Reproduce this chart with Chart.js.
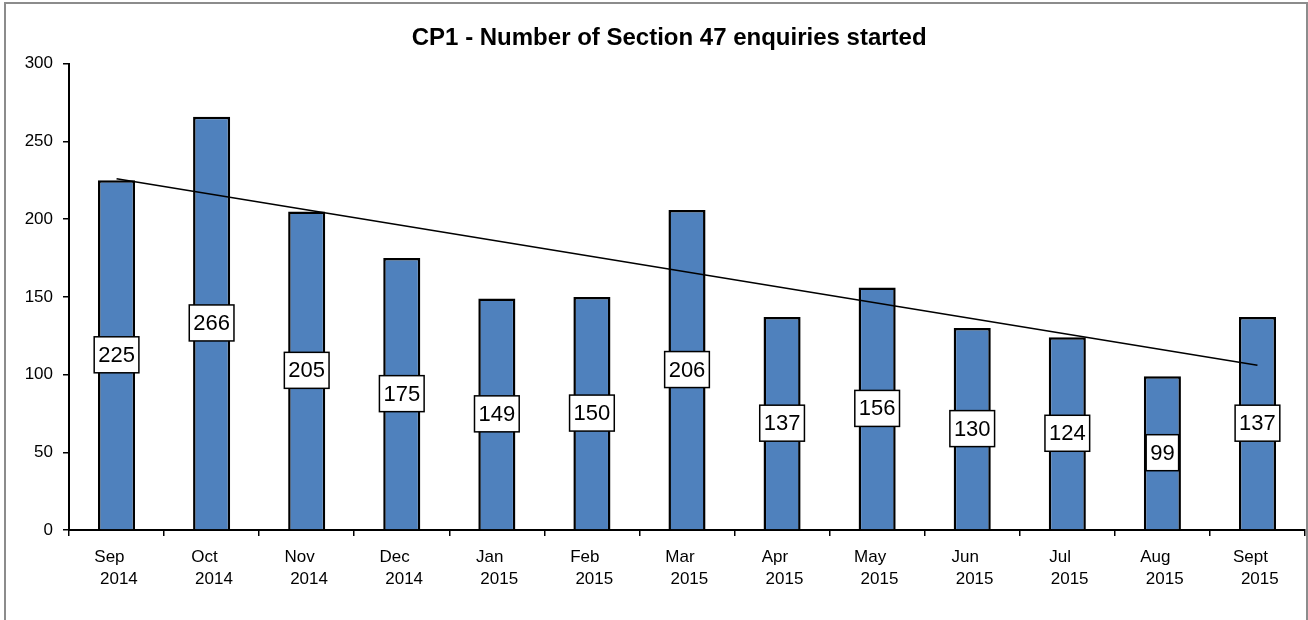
<!DOCTYPE html>
<html>
<head>
<meta charset="utf-8">
<script src="https://cdn.jsdelivr.net/npm/chart.js@4/dist/chart.umd.min.js"></script>
<style>
    html, body { margin: 0; padding: 0; background: #fff; overflow: hidden; }
    #frame {
        position: absolute; left: 4px; top: 2px; width: 1300px; height: 700px;
        border: 2px solid #8c8c8c;
    }
    #chart { position: absolute; left: 0; top: 0; }
</style>
</head>
<body>
<div id="frame"></div>
<canvas id="chart" width="1308" height="620"></canvas>
<script>
// Data
const months = ['Sep', 'Oct', 'Nov', 'Dec', 'Jan', 'Feb', 'Mar', 'Apr', 'May', 'Jun', 'Jul', 'Aug', 'Sept'];
const years = ['2014', '2014', '2014', '2014', '2015', '2015', '2015', '2015', '2015', '2015', '2015', '2015', '2015'];
const enquiries = [225, 266, 205, 175, 149, 150, 206, 137, 156, 130, 124, 99, 137];
// trend line end points
const trend = [226, null, null, null, null, null, null, null, null, null, null, null, 106];
const yTicks = [0, 50, 100, 150, 200, 250, 300];

const labels = months.map((m, i) => m + ' ' + years[i]);
const fontFamily = '"Liberation Sans", Arial, sans-serif';

// Boxed value labels in the middle of each bar
const boxLabels = {
    id: 'boxLabels',
    afterDatasetsDraw(chart) {
        const meta = chart.getDatasetMeta(1); // the bar dataset
        const ctx = chart.ctx;
        ctx.save();
        ctx.font = '22px ' + fontFamily;
        ctx.textAlign = 'center';
        ctx.textBaseline = 'middle';
        meta.data.forEach((bar, i) => {
            const txt = String(enquiries[i]);
            const w = ctx.measureText(txt).width + 8;
            const h = 36;
            const cy = (bar.y + bar.base) / 2;
            ctx.fillStyle = '#fff';
            ctx.fillRect(bar.x - w / 2, cy - h / 2, w, h);
            ctx.strokeStyle = '#000';
            ctx.lineWidth = 1.5;
            ctx.strokeRect(bar.x - w / 2, cy - h / 2, w, h);
            ctx.fillStyle = '#000';
            ctx.fillText(txt, bar.x, cy + 1);
        });
        ctx.restore();
    }
};

new Chart(document.getElementById('chart'), {
    type: 'bar',
    data: {
        labels: labels,
        datasets: [
            {
                type: 'line',
                data: trend,
                borderColor: '#000',
                borderWidth: 1.5,
                pointRadius: 0,
                spanGaps: true,
                order: 0
            },
            {
                data: enquiries,
                backgroundColor: '#4f81bd',
                borderColor: '#000',
                borderWidth: 2.5,
                barPercentage: 0.39,
                categoryPercentage: 1,
                order: 1
            }
        ]
    },
    options: {
        responsive: false,
        animation: false,
        layout: { padding: { left: 0, right: 3, top: 0, bottom: 0 } },
        plugins: {
            legend: { display: false },
            tooltip: { enabled: false },
            title: {
                display: true,
                // leading spaces nudge the title right like in the original
                text: '     CP1 - Number of Section 47 enquiries started',
                color: '#000',
                font: { family: fontFamily, size: 24, weight: 'bold', lineHeight: 1.2 },
                padding: { top: 24, bottom: 11 }
            }
        },
        scales: {
            x: {
                grid: {
                    offset: true,
                    drawOnChartArea: false,
                    drawTicks: true,
                    tickLength: 6,
                    color: '#000',
                    lineWidth: 1.5
                },
                border: { display: true, color: '#000', width: 2 },
                ticks: {
                    color: '#000',
                    maxRotation: 0,
                    autoSkip: false,
                    padding: 10,
                    font: { family: fontFamily, size: 17, lineHeight: 1.3 },
                    callback: (v, i) => [months[i] + '   ', ' ' + years[i]]
                },
                afterFit: (scale) => { scale.height = 90; }
            },
            y: {
                min: 0,
                max: 300,
                afterBuildTicks: (scale) => { scale.ticks = yTicks.map(v => ({ value: v })); },
                grid: {
                    drawOnChartArea: false,
                    drawTicks: true,
                    tickLength: 6,
                    color: '#000',
                    lineWidth: 1.5
                },
                border: { display: true, color: '#000', width: 2 },
                ticks: {
                    color: '#000',
                    padding: 10,
                    font: { family: fontFamily, size: 17 }
                },
                afterFit: (scale) => { scale.width = 69; }
            }
        }
    },
    plugins: [boxLabels]
});
</script>
</body>
</html>
